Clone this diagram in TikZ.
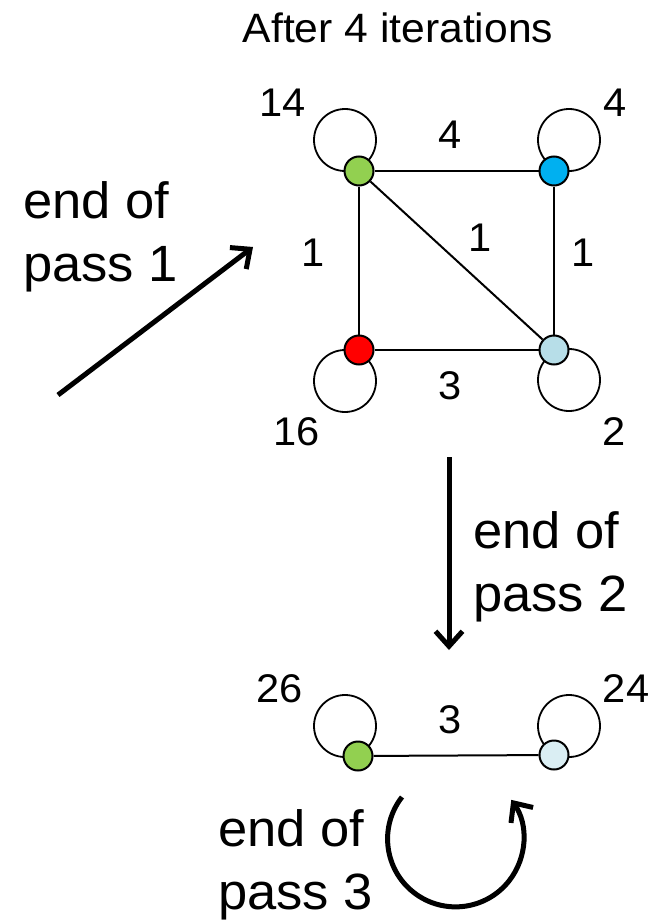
\documentclass[tikz,border=0pt]{standalone}
\usepackage{fontspec}
\setmainfont{Liberation Sans}
\newfontfamily\numfont[FakeStretch=1.04]{Liberation Sans}
\newfontfamily\widefont[FakeStretch=1.03]{Liberation Sans}
\usetikzlibrary{arrows.meta,backgrounds}
\definecolor{cgreen}{HTML}{92D050}
\definecolor{cblue}{HTML}{00B0F0}
\definecolor{cred}{HTML}{FF0000}
\definecolor{clight}{HTML}{B7DEE8}
\definecolor{cpale}{HTML}{DAEEF3}
\tikzset{
  vert/.style={circle,draw=black,line width=2pt,minimum size=29pt,inner sep=0pt},
  edge/.style={line width=2pt},
  loopc/.style={line width=1.8pt},
  num/.style={font=\numfont\fontsize{40}{48}\selectfont,inner sep=0pt},
  passlbl/.style={font=\widefont\fontsize{51}{63}\selectfont,align=left,inner sep=0pt,anchor=west},
  bigarrow/.style={line width=5pt,-{Straight Barb[length=15pt,width=27pt]}}
}
\begin{document}
\begin{tikzpicture}[x=1pt,y=-1pt]
\useasboundingbox (0,0) rectangle (656,923);
\node[font=\numfont\fontsize{41}{49}\selectfont,inner sep=0pt] (title) at (398,28) {After 4 iterations};
% top graph
\node[vert,fill=cgreen] (g) at (359,171) {};
\node[vert,fill=cblue] (b) at (554,171) {};
\node[vert,fill=cred] (r) at (359,350) {};
\node[vert,fill=clight] (l) at (554,350) {};
\begin{scope}[on background layer]
\draw[loopc] ([shift={(-14,-31)}]g.center) circle[radius=31];
\draw[loopc] ([shift={(15,-31)}]b.center) circle[radius=31];
\draw[loopc] ([shift={(-14,31)}]r.center) circle[radius=31];
\draw[loopc] ([shift={(15,30)}]l.center) circle[radius=31];
\draw[edge] (g) -- (b);
\draw[edge] (g) -- (r);
\draw[edge] (g) -- (l);
\draw[edge] (b) -- (l);
\draw[edge] (r) -- (l);
\end{scope}
\node[num] (n14) at (283,103) {14};
\node[num] (n4) at (615,103) {4};
\node[num] (n16) at (297,432) {16};
\node[num] (n2) at (614,432) {2};
\node[num] (e1) at (450,135) {4};
\node[num] (e2) at (313,253) {1};
\node[num] (e3) at (480,238) {1};
\node[num] (e4) at (583,253) {1};
\node[num] (e5) at (450,386) {3};
% pass 1
\node[passlbl] (p1) at (23,237) {end of\\pass 1};
\coordinate (a1s) at (58,395);
\coordinate (a1e) at (253,247);
\draw[bigarrow] (a1s) -- (a1e);
% pass 2
\coordinate (a2s) at (449,457);
\coordinate (a2e) at (449,650);
\draw[bigarrow] (a2s) -- (a2e);
\node[passlbl] (p2) at (473,567) {end of\\pass 2};
% bottom graph
\node[vert,fill=cgreen] (g2) at (358,756) {};
\node[vert,fill=cpale] (l2) at (554,755) {};
\begin{scope}[on background layer]
\draw[loopc] ([shift={(-13,-30)}]g2.center) circle[radius=31];
\draw[loopc] ([shift={(15,-29)}]l2.center) circle[radius=31];
\draw[edge] (g2) -- (l2);
\end{scope}
\node[num] (n26) at (280,689) {26};
\node[num] (n24) at (626,689) {24};
\node[num] (e6) at (450,720) {3};
% pass 3
\node[passlbl] (p3) at (218,865) {end of\\pass 3};
\coordinate (a3s) at (402,797);
\draw[bigarrow] (a3s) arc[start angle=-142,end angle=-395,radius=68];
\end{tikzpicture}
\end{document}
